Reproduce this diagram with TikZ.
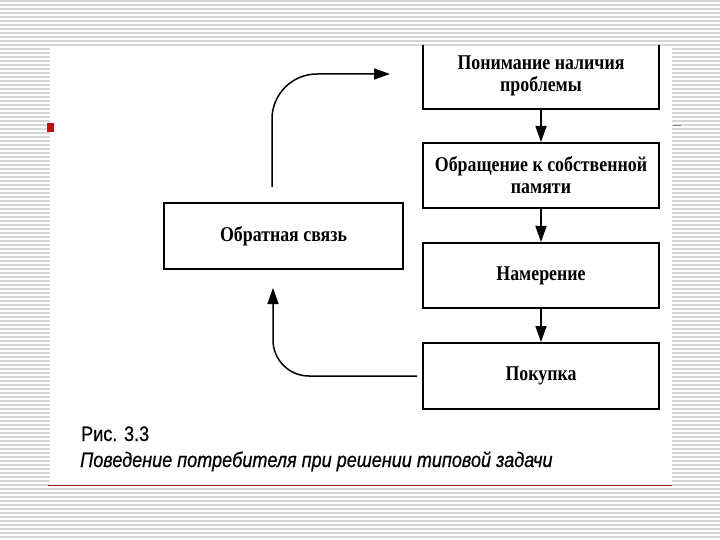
\documentclass[tikz,border=0pt]{standalone}
\usepackage{fontspec}
\usetikzlibrary{arrows.meta}
\newfontfamily\boxfont[FakeStretch=0.85]{Liberation Serif Bold}
\newfontfamily\capfont[FakeStretch=0.86,FakeBold=0.6]{Liberation Sans}
\definecolor{stripe}{HTML}{D6D6D6}
\definecolor{slidered}{HTML}{8C1E1E}
\definecolor{bulletred}{HTML}{B81414}
\begin{document}
\begin{tikzpicture}[x=1pt,y=-1pt,
  stepbox/.style={draw=black,line width=2pt,minimum width=236pt,inner sep=0pt,
    font=\boxfont\fontsize{21}{22}\selectfont,align=center},
  conn/.style={line width=1.5pt,-{Triangle[length=16pt,width=11pt]}},
  captext/.style={anchor=base west,inner sep=0pt},
]
\useasboundingbox (0,0) rectangle (720,540);
\fill[white] (0,0) rectangle (720,540);
\foreach \y in {1,5,...,539} \draw[stripe,line width=1.3pt] (0,\y) -- (720,\y);
\fill[white] (50,46) rectangle (672,485);

% boxes
\begin{scope}
\clip (50,46) rectangle (672,485);
\node[stepbox,minimum height=66pt] (p1) at (541,76) {Понимание наличия\\проблемы};
\end{scope}
\node[stepbox,minimum height=65pt] (p2) at (541,175.5) {Обращение к собственной\\памяти};
\node[stepbox,minimum height=65pt] (p3) at (541,275.5) {Намерение};
\node[stepbox,minimum height=66pt] (p4) at (541,376) {Покупка};
\node[stepbox,minimum width=239pt,minimum height=66pt] (fb) at (283.5,236) {Обратная связь};

% connectors
\draw[conn] (p1.south) -- (p2.north);
\draw[conn] (p2.south) -- (p3.north);
\draw[conn] (p3.south) -- (p4.north);

\coordinate (fbout) at (272,187);
\coordinate (fbin) at (390,74);
\draw[conn,rounded corners=45pt] (fbout) |- (fbin);

\coordinate (buyout) at (417,376);
\coordinate (fbback) at (273,288);
\draw[conn,rounded corners=36pt] (buyout) -| (fbback);

% slide decorations
\fill[bulletred] (47,123) rectangle (54,132);
\draw[gray,line width=0.8pt] (673,125) -- (681,125);
\draw[slidered,line width=1pt] (48,485) -- (672,485);

% caption
\node[captext,font=\capfont\fontsize{21}{24}\selectfont] (fig) at (81,441) {Рис. 3.3};
\node[captext,font=\capfont\itshape\fontsize{21}{24}\selectfont] (cap) at (80,467) {Поведение потребителя при решении типовой задачи};
\end{tikzpicture}
\end{document}
